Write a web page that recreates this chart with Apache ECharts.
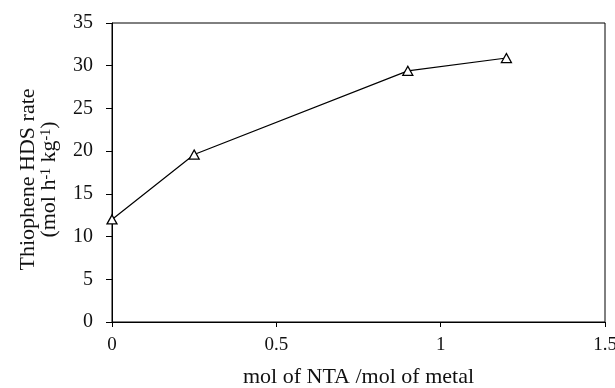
<!DOCTYPE html>
<html>
<head>
<meta charset="utf-8">
<script src="https://cdn.jsdelivr.net/npm/echarts@6/dist/echarts.min.js"></script>
<style>
html,body{margin:0;padding:0;background:#fff;}
#chart{width:615px;height:388px;}
</style>
</head>
<body>
<div id="chart"></div>
<script>
// Data
const ntaRatio = [0, 0.25, 0.9, 1.2];
const hdsRate = [12.0, 19.6, 29.4, 30.9];
const xTicks = [0, 0.5, 1, 1.5];
const yTicks = [0, 5, 10, 15, 20, 25, 30, 35];
const xTitle = 'mol of NTA /mol of metal';
const yTitleLine1 = 'Thiophene HDS rate';

const font = '"Liberation Serif", "Times New Roman", serif';
const chart = echarts.init(document.getElementById('chart'), null, {renderer: 'canvas'});

const points = ntaRatio.map((x, i) => [x, hdsRate[i]]);

chart.setOption({
  animation: false,
  backgroundColor: '#fff',
  grid: {left: 112, right: 10, top: 23, bottom: 66, show: true, borderColor: '#000', borderWidth: 1,
    containLabel: false, outerBoundsMode: 'none'},
  xAxis: {
    type: 'value',
    min: xTicks[0], max: xTicks[xTicks.length - 1], interval: 0.5,
    axisLine: {show: true, lineStyle: {color: '#000', width: 1}},
    axisTick: {show: true, inside: false, length: 5, lineStyle: {color: '#000'}},
    splitLine: {show: false},
    axisLabel: {color: '#111', fontFamily: font, fontSize: 19, margin: 14,
      formatter: v => String(v)},
    name: xTitle,
    nameLocation: 'middle',
    nameGap: 44,
    nameTextStyle: {color: '#111', fontFamily: font, fontSize: 22}
  },
  yAxis: {
    type: 'value',
    min: yTicks[0], max: yTicks[yTicks.length - 1], interval: 5,
    axisLine: {show: true, lineStyle: {color: '#000', width: 1}},
    axisTick: {show: true, inside: false, length: 6, lineStyle: {color: '#000'}},
    splitLine: {show: false},
    axisLabel: {color: '#111', fontFamily: font, fontSize: 20, margin: 19},
    name: '{a|' + yTitleLine1 + '}\n{a|(mol h}{s|-1}{a| kg}{s|-1}{a|)}',
    nameLocation: 'middle',
    nameGap: 52,
    nameTextStyle: {
      color: '#111', fontFamily: font, fontSize: 22, lineHeight: 21,
      padding: [0, 14, 0, 0],
      rich: {
        a: {fontFamily: font, fontSize: 22, color: '#111', lineHeight: 21},
        s: {fontFamily: font, fontSize: 14, color: '#111', lineHeight: 21, verticalAlign: 'top', padding: [0, 0, 7, 0]}
      }
    }
  },
  series: [{
    type: 'line',
    data: points,
    symbol: 'triangle',
    symbolSize: [10, 9],
    lineStyle: {color: '#000', width: 1.2},
    itemStyle: {color: '#fff', borderColor: '#000', borderWidth: 1.3},
    emphasis: {disabled: true}
  }]
});
</script>
</body>
</html>
